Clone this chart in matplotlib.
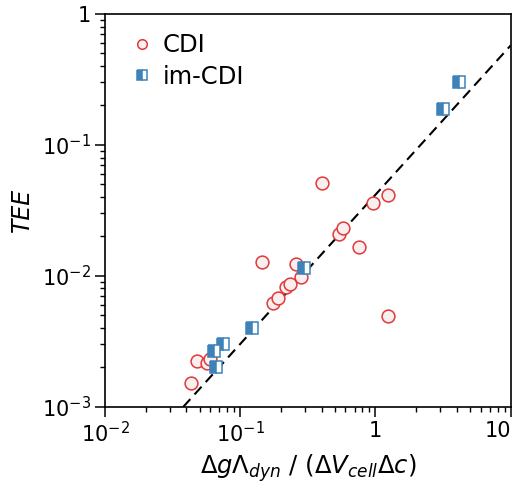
import numpy as np
import matplotlib
matplotlib.use("Agg")
import matplotlib.pyplot as plt
from matplotlib.ticker import FuncFormatter, LogLocator

# CDI data (open circles)
cdi_x = [0.043, 0.048, 0.057, 0.060, 0.144, 0.176, 0.189, 0.217, 0.233,
         0.259, 0.282, 0.401, 0.541, 0.579, 0.752, 0.966, 1.24, 1.23]
cdi_y = [0.00151, 0.00225, 0.00215, 0.00232, 0.0128, 0.00623, 0.00681, 0.00826, 0.0086,
         0.01225, 0.00984, 0.0514, 0.0208, 0.0233, 0.0165, 0.0358, 0.0414, 0.00493]

# im-CDI data (half-filled squares)
imcdi_x = [0.064, 0.0662, 0.075, 0.1217, 0.296, 3.15, 4.15]
imcdi_y = [0.00268, 0.0020, 0.00301, 0.00402, 0.0114, 0.187, 0.30]

# guide line y = a * x^b
fit_a = 0.0416
fit_b = 1.14

red = "#e0393a"
blue = "#3d82b9"

plt.rcParams["font.family"] = "DejaVu Sans"
plt.rcParams["mathtext.fontset"] = "dejavusans"

fig = plt.figure(figsize=(5.19, 4.96), dpi=100)
ax = fig.add_axes([0.2023, 0.18, 0.7817, 0.792])

xx = np.logspace(-2, 1, 200)
ax.plot(xx, fit_a * xx ** fit_b, color="black", linestyle=(0, (5, 3)), linewidth=1.5, zorder=1)

ax.plot(cdi_x, cdi_y, linestyle="none", marker="o", ms=9.2, mec=red, mfc="#fbeeee",
        mew=1.1, label="CDI", zorder=2)
ax.plot(imcdi_x, imcdi_y, linestyle="none", marker="s", ms=8.7, mec=blue, mfc=blue,
        fillstyle="left", markerfacecoloralt="white", mew=1.1, label="im-CDI", zorder=3)

ax.set_xscale("log")
ax.set_yscale("log")
ax.set_xlim(1e-2, 10)
ax.set_ylim(1e-3, 1)


def fmt(v, pos):
    if np.isclose(v, 1):
        return "1"
    if np.isclose(v, 10):
        return "10"
    return r"$10^{%d}$" % int(round(np.log10(v)))


ax.xaxis.set_major_formatter(FuncFormatter(fmt))
ax.yaxis.set_major_formatter(FuncFormatter(fmt))
ax.xaxis.set_major_locator(LogLocator(base=10, numticks=10))
ax.yaxis.set_major_locator(LogLocator(base=10, numticks=10))

ax.tick_params(which="major", direction="out", length=7, width=1.1, labelsize=15, pad=3)
ax.tick_params(which="minor", direction="out", length=3.5, width=1.0)
ax.tick_params(top=False, right=False, which="both")
for s in ax.spines.values():
    s.set_linewidth(1.2)

ax.set_xlabel(r"$\Delta g\Lambda_{dyn}$ / ($\Delta V_{cell}\Delta c$)", fontsize=17.5, labelpad=5)
ax.set_ylabel("TEE", fontsize=17, style="italic", labelpad=6)

ax.legend(loc="upper left", bbox_to_anchor=(0.02, 1.0), frameon=False, fontsize=17.5,
          markerscale=0.75, handlelength=0.8, handletextpad=0.45, borderaxespad=0.3,
          labelspacing=0.3, borderpad=0.5)

fig.canvas.draw()
for lbl in ax.get_xticklabels():
    if lbl.get_text() == "10":
        lbl.set_horizontalalignment("right")

fig.savefig("out.png", dpi=100)
